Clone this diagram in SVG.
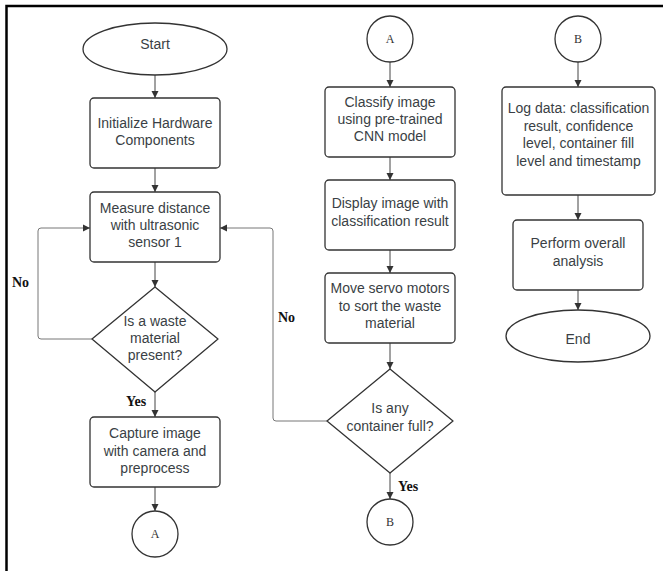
<svg xmlns="http://www.w3.org/2000/svg" width="663" height="571" viewBox="0 0 663 571">
<style>
.n{fill:#fff;stroke:#333;stroke-width:1.3}
.t{font-family:"Liberation Sans",Arial,sans-serif;font-size:14px;fill:#3a3f45;text-anchor:middle}
.c{font-family:"Liberation Serif","Times New Roman",serif;font-size:12px;fill:#333;text-anchor:middle}
.l{font-family:"Liberation Serif","Times New Roman",serif;font-size:14px;font-weight:bold;fill:#111}
.e{fill:none;stroke:#444;stroke-width:1}
.lp{fill:none;stroke:#777;stroke-width:1}
</style>
<defs>
<marker id="ah" markerWidth="8" markerHeight="8" refX="7" refY="4" orient="auto" markerUnits="userSpaceOnUse">
<path d="M0,0.5 L7,4 L0,7.5 Z" fill="#333"/>
</marker>
</defs>
<rect width="663" height="571" fill="#fff"/>
<path d="M6.5,571 V6 H663" fill="none" stroke="#000" stroke-width="2.5"/>

<g id="connectors">
<path class="e" d="M155,75 V98" marker-end="url(#ah)"/>
<path class="e" d="M155,168 V192" marker-end="url(#ah)"/>
<path class="e" d="M155,262 V287" marker-end="url(#ah)"/>
<path class="e" d="M155,392 V417" marker-end="url(#ah)"/>
<path class="e" d="M155,487 V511" marker-end="url(#ah)"/>
<path class="lp" d="M92,339 H41 Q38,339 38,336 V231 Q38,228 41,228 H90" marker-end="url(#ah)"/>
<path class="e" d="M390,62 V87" marker-end="url(#ah)"/>
<path class="e" d="M390,157 V180" marker-end="url(#ah)"/>
<path class="e" d="M390,250 V273" marker-end="url(#ah)"/>
<path class="e" d="M390,343 V369" marker-end="url(#ah)"/>
<path class="e" d="M390,473 V499" marker-end="url(#ah)"/>
<path class="lp" d="M327,421 H276 Q273,421 273,418 V231 Q273,228 270,228 H220" marker-end="url(#ah)"/>
<path class="e" d="M578,62 V87" marker-end="url(#ah)"/>
<path class="e" d="M578,195 V220" marker-end="url(#ah)"/>
<path class="e" d="M578,290 V310" marker-end="url(#ah)"/>
<text class="l" x="12" y="287">No</text>
<text class="l" x="126" y="406">Yes</text>
<text class="l" x="278" y="322">No</text>
<text class="l" x="398" y="491">Yes</text>
</g>

<g id="start"><ellipse class="n" cx="155" cy="49" rx="72" ry="26"/><text class="t" x="155" y="49">Start</text></g>
<g id="init"><rect class="n" x="90" y="98" width="130" height="70" rx="4"/><text class="t" x="155" y="128">Initialize Hardware</text><text class="t" x="155" y="145">Components</text></g>
<g id="measure"><rect class="n" x="90" y="192" width="130" height="70" rx="4"/><text class="t" x="155" y="213">Measure distance</text><text class="t" x="155" y="230">with ultrasonic</text><text class="t" x="155" y="247">sensor 1</text></g>
<g id="waste"><path class="n" d="M155,287 L218,339 L155,392 L92,339 Z" stroke-linejoin="round"/><text class="t" x="155" y="326">Is a waste</text><text class="t" x="155" y="343">material</text><text class="t" x="155" y="360">present?</text></g>
<g id="capture"><rect class="n" x="90" y="417" width="130" height="70" rx="4"/><text class="t" x="155" y="438">Capture image</text><text class="t" x="155" y="456">with camera and</text><text class="t" x="155" y="473">preprocess</text></g>
<g id="connA1"><circle class="n" cx="155" cy="534" r="23"/><text class="c" x="155" y="538">A</text></g>

<g id="connA2"><circle class="n" cx="390" cy="39" r="23"/><text class="c" x="390" y="43">A</text></g>
<g id="classify"><rect class="n" x="325" y="87" width="130" height="70" rx="4"/><text class="t" x="390" y="107">Classify image</text><text class="t" x="390" y="124">using pre-trained</text><text class="t" x="390" y="141">CNN model</text></g>
<g id="display"><rect class="n" x="325" y="180" width="130" height="70" rx="4"/><text class="t" x="390" y="208">Display image with</text><text class="t" x="390" y="226">classification result</text></g>
<g id="move"><rect class="n" x="325" y="273" width="130" height="70" rx="4"/><text class="t" x="390" y="293">Move servo motors</text><text class="t" x="390" y="311">to sort the waste</text><text class="t" x="390" y="328">material</text></g>
<g id="full"><path class="n" d="M390,369 L453,421 L390,473 L327,421 Z" stroke-linejoin="round"/><text class="t" x="390" y="413">Is any</text><text class="t" x="390" y="431">container full?</text></g>
<g id="connB1"><circle class="n" cx="390" cy="522" r="23"/><text class="c" x="390" y="526">B</text></g>

<g id="connB2"><circle class="n" cx="578" cy="39" r="23"/><text class="c" x="578" y="43">B</text></g>
<g id="log"><rect class="n" x="502" y="87" width="153" height="108" rx="4"/><text class="t" x="578.5" y="113">Log data: classification</text><text class="t" x="578.5" y="131">result, confidence</text><text class="t" x="578.5" y="148">level, container fill</text><text class="t" x="578.5" y="166">level and timestamp</text></g>
<g id="perform"><rect class="n" x="513" y="220" width="130" height="70" rx="4"/><text class="t" x="578" y="248">Perform overall</text><text class="t" x="578" y="266">analysis</text></g>
<g id="end"><ellipse class="n" cx="578" cy="336" rx="72" ry="26"/><text class="t" x="578" y="344">End</text></g>
</svg>
